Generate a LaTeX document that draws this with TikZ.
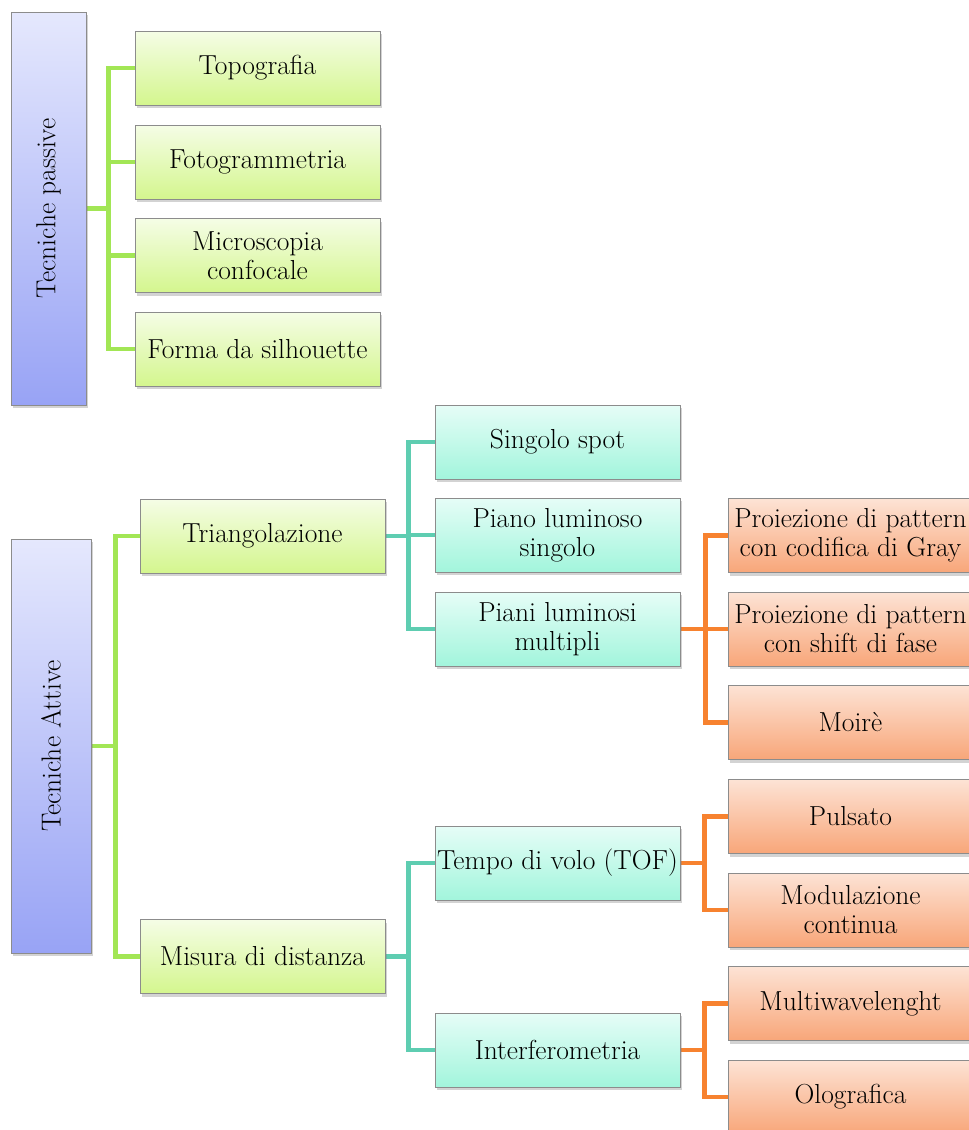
\documentclass[tikz,border=0pt]{standalone}
\usepackage{fontspec}
\usetikzlibrary{shadows,backgrounds}
\definecolor{bTop}{HTML}{E5E8FD}
\definecolor{bBot}{HTML}{98A3F5}
\definecolor{gTop}{HTML}{F5FDE6}
\definecolor{gBot}{HTML}{D4F68E}
\definecolor{tTop}{HTML}{E6FDF7}
\definecolor{tBot}{HTML}{A2F5DC}
\definecolor{oTop}{HTML}{FDE3D5}
\definecolor{oBot}{HTML}{F8A679}
\definecolor{gLine}{HTML}{A2E655}
\definecolor{tLine}{HTML}{5ECDB1}
\definecolor{oLine}{HTML}{F7822F}
\tikzset{
  box/.style={rectangle, draw=black!45, line width=0.8pt, minimum width=245pt,
    minimum height=74pt, inner sep=1pt, align=center,
    font=\fontsize{27.5}{29}\selectfont,
    drop shadow={shadow xshift=1.5pt, shadow yshift=-3pt, opacity=0.35}},
  bbox/.style={box, top color=bTop, bottom color=bBot},
  gbox/.style={box, top color=gTop, bottom color=gBot},
  tbox/.style={box, top color=tTop, bottom color=tBot},
  obox/.style={box, top color=oTop, bottom color=oBot},
  gconn/.style={draw=gLine, line width=4.5pt},
  tconn/.style={draw=tLine, line width=4.5pt},
  oconn/.style={draw=oLine, line width=4.5pt},
}
\begin{document}
\begin{tikzpicture}[x=1pt,y=-1pt]
\useasboundingbox (0,0) rectangle (969,1130);
\clip (0,0) rectangle (969,1130);
% passive
\node[bbox, minimum width=75pt, minimum height=393pt] (passive) at (48.5,208.5) {\rotatebox{90}{Tecniche passive}};
\node[gbox] (topo) at (257.5,68) {Topografia};
\node[gbox] (foto) at (257.5,162) {Fotogrammetria};
\node[gbox] (micro) at (257.5,255.5) {Microscopia\\confocale};
\node[gbox] (forma) at (257.5,349) {Forma da silhouette};
% active
\node[bbox, minimum width=80pt, minimum height=414pt] (attive) at (51,746) {\rotatebox{90}{Tecniche Attive}};
\node[gbox] (tri) at (262.5,536) {Triangolazione};
\node[gbox] (mis) at (262.5,956.5) {Misura di distanza};
\node[tbox] (sing) at (557.5,442) {Singolo spot};
\node[tbox] (piano) at (557.5,535) {Piano luminoso\\singolo};
\node[tbox] (piani) at (557.5,629) {Piani luminosi\\multipli};
\node[obox] (pg) at (850.5,535.5) {Proiezione di pattern\\con codifica di Gray};
\node[obox] (pf) at (850.5,629) {Proiezione di pattern\\con shift di fase};
\node[obox] (moire) at (850.5,722.5) {Moirè};
\node[tbox] (tempo) at (557.5,863) {Tempo di volo (TOF)};
\node[tbox] (interf) at (557.5,1050) {Interferometria};
\node[obox] (puls) at (850.5,816.5) {Pulsato};
\node[obox] (modul) at (850.5,910) {Modulazione\\continua};
\node[obox] (multi) at (850.5,1003.5) {Multiwavelenght};
\node[obox] (olo) at (850.5,1097) {Olografica};
% connectors
\begin{scope}[on background layer]
\path (passive.east) ++(22,0) coordinate (j1);
\draw[gconn] (passive.east) -- (j1);
\draw[gconn] (topo.west) -| (j1) |- (forma.west);
\draw[gconn] (foto.west) -- (foto.west -| j1);
\draw[gconn] (micro.west) -- (micro.west -| j1);
\path (attive.east) ++(24,0) coordinate (j2);
\draw[gconn] (attive.east) -- (j2);
\draw[gconn] (tri.west) -| (j2) |- (mis.west);
\path (tri.east) ++(23,0) coordinate (j3);
\draw[tconn] (tri.east) -- (j3);
\draw[tconn] (sing.west) -| (j3) |- (piani.west);
\draw[tconn] (piano.west) -- (piano.west -| j3);
\path (piani.east) ++(25,0) coordinate (j4);
\draw[oconn] (piani.east) -- (j4);
\draw[oconn] (pg.west) -| (j4) |- (moire.west);
\draw[oconn] (pf.west) -- (pf.west -| j4);
\path (mis.east) ++(23,0) coordinate (j5);
\draw[tconn] (mis.east) -- (j5);
\draw[tconn] (tempo.west) -| (j5) |- (interf.west);
\path (tempo.east) ++(24,0) coordinate (j6);
\draw[oconn] (tempo.east) -- (j6);
\draw[oconn] (puls.west) -| (j6) |- (modul.west);
\path (interf.east) ++(24,0) coordinate (j7);
\draw[oconn] (interf.east) -- (j7);
\draw[oconn] (multi.west) -| (j7) |- (olo.west);
\end{scope}
\end{tikzpicture}
\end{document}
